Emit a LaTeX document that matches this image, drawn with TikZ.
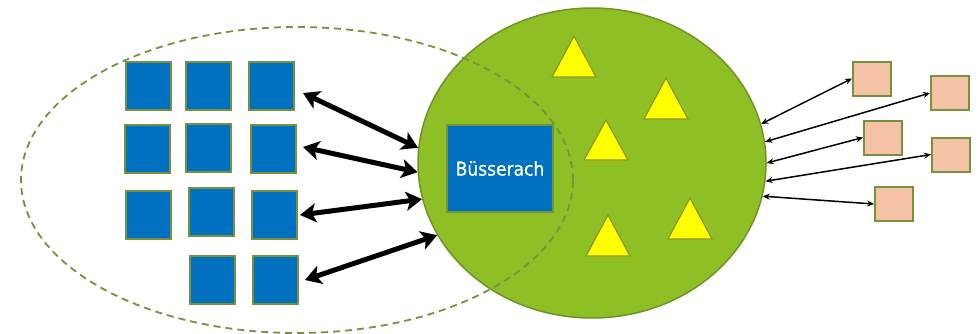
\documentclass[tikz,border=0pt]{standalone}
\usepackage{fontspec}
\setmainfont{PT Sans}
\newfontfamily\tahfont{DejaVu Sans Condensed}[FakeBold=0.8]
\usetikzlibrary{arrows.meta,shapes.geometric}
\definecolor{bluebox}{RGB}{0,112,192}
\definecolor{olive}{RGB}{118,146,60}
\definecolor{circfill}{RGB}{142,192,38}
\definecolor{circline}{RGB}{110,148,40}
\definecolor{salmon}{RGB}{244,195,165}
\definecolor{triyel}{RGB}{255,255,0}
\definecolor{trline}{RGB}{140,150,40}
\tikzset{
  bsq/.style={draw=olive,fill=bluebox,line width=2pt,inner sep=0pt,minimum width=45pt,minimum height=48pt},
  ssq/.style={draw=olive,fill=salmon,line width=2pt,inner sep=0pt,minimum width=38pt,minimum height=34pt},
  tri/.style={draw=trline,fill=triyel,line width=1.2pt,line join=miter},
  bigarr/.style={line width=5pt,{Stealth[length=16pt,width=19pt,inset=4pt]}-{Stealth[length=16pt,width=19pt,inset=4pt]}},
  thinarr/.style={line width=1.5pt,{Stealth[length=7pt,width=6pt]}-{Stealth[length=7pt,width=6pt]}},
}
\begin{document}
\begin{tikzpicture}[x=1pt,y=-1pt]
\useasboundingbox (0,0) rectangle (980,333);
% green circle
\node[ellipse,draw=circline,fill=circfill,line width=1.5pt,inner sep=0pt,minimum width=348pt,minimum height=310pt] (g) at (592,163) {};
% dashed ellipse
\node[ellipse,draw=olive,dash pattern=on 7pt off 5pt,line width=1.8pt,inner sep=0pt,minimum width=552pt,minimum height=306pt] (de) at (297,180) {};
% central box
\node[draw=olive,fill=bluebox,line width=2pt,inner sep=0pt,minimum width=106pt,minimum height=87pt,text=white,font=\tahfont\fontsize{19}{23}\selectfont] (b) at (500,168.5) {Büsserach};
% triangles
\path[tri] (574,36) -- (596,77) -- (552,77) -- cycle;
\path[tri] (666,78) -- (688,119) -- (644,119) -- cycle;
\path[tri] (606,120) -- (628,160) -- (584,160) -- cycle;
\path[tri] (608,215) -- (630,256) -- (586,256) -- cycle;
\path[tri] (690,198) -- (712,239) -- (668,239) -- cycle;
% blue squares
\node[bsq] (q11) at (148.5,85.5) {};
\node[bsq] (q12) at (208.5,85.5) {};
\node[bsq] (q13) at (271.5,85.5) {};
\node[bsq] (q21) at (147.5,148.5) {};
\node[bsq] (q22) at (208.5,147.5) {};
\node[bsq] (q23) at (273.5,148.5) {};
\node[bsq] (q31) at (148.5,215) {};
\node[bsq] (q32) at (211,211.5) {};
\node[bsq] (q33) at (274,215) {};
\node[bsq] (q42) at (212.5,279.5) {};
\node[bsq] (q43) at (275,279.5) {};
% salmon squares
\node[ssq] (s1) at (872,78.5) {};
\node[ssq] (s2) at (950,93) {};
\node[ssq] (s3) at (883,137.5) {};
\node[ssq] (s4) at (951,154.5) {};
\node[ssq] (s5) at (894,204) {};
% big arrows
\coordinate (l1) at (303,93);
\coordinate (l2) at (303,147);
\coordinate (l3) at (300,215);
\coordinate (l4) at (305,280);
\draw[bigarr] (l1) -- (g.175);
\draw[bigarr] (l2) -- (g.183.3);
\draw[bigarr] (l3) -- (g.192.8);
\draw[bigarr] (l4) -- (g.205.2);
% thin arrows
\draw[thinarr] (g.13.2) -- (s1.west);
\draw[thinarr] (g.7.5) -- (s2.west);
\draw[thinarr] (g.0.3) -- (s3.west);
\draw[thinarr] (g.-6.2) -- (s4.west);
\draw[thinarr] (g.-11.2) -- (s5.west);
\end{tikzpicture}
\end{document}
